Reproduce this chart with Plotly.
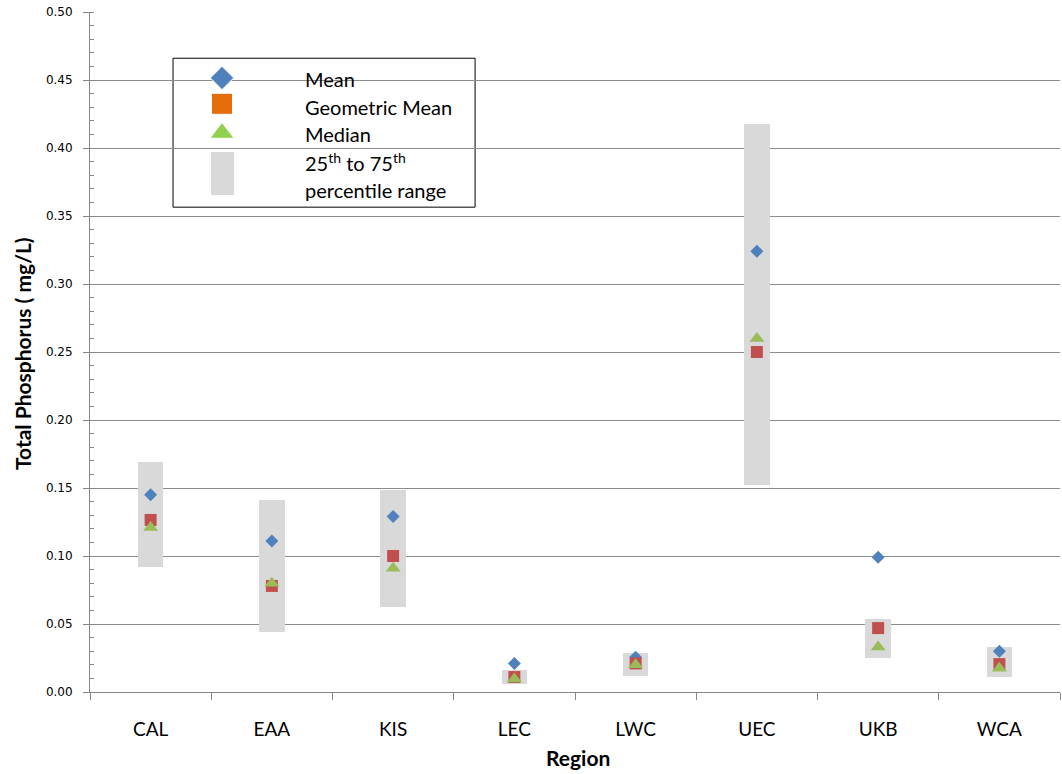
import plotly.graph_objects as go

regions = ["CAL", "EAA", "KIS", "LEC", "LWC", "UEC", "UKB", "WCA"]
mean_vals = [0.145, 0.111, 0.129, 0.021, 0.0255, 0.324, 0.099, 0.030]
geo_mean_vals = [0.1265, 0.078, 0.100, 0.011, 0.021, 0.250, 0.047, 0.0205]
median_vals = [0.121, 0.080, 0.091, 0.0095, 0.020, 0.260, 0.033, 0.0175]
p25_vals = [0.092, 0.044, 0.0625, 0.006, 0.012, 0.152, 0.025, 0.011]
p75_vals = [0.169, 0.141, 0.1485, 0.016, 0.029, 0.418, 0.054, 0.033]
y_ticks = [0.0, 0.05, 0.10, 0.15, 0.20, 0.25, 0.30, 0.35, 0.40, 0.45, 0.50]

legend_labels = ["Mean", "Geometric Mean", "Median",
                 "25<sup>th</sup> to 75<sup>th</sup>", "percentile range"]

fig = go.Figure()

fig.add_trace(go.Bar(
    x=regions, y=[h - l for h, l in zip(p75_vals, p25_vals)], base=p25_vals,
    width=0.21, marker=dict(color="#D9D9D9", line=dict(width=0)),
    showlegend=False, hoverinfo="skip"))
fig.add_trace(go.Scatter(
    x=regions, y=mean_vals, mode="markers",
    marker=dict(symbol="diamond", size=10, color="#4F81BD", opacity=1), showlegend=False))
fig.add_trace(go.Scatter(
    x=regions, y=geo_mean_vals, mode="markers",
    marker=dict(symbol="square", size=12, color="#C0504D", opacity=1), showlegend=False))
fig.add_trace(go.Scatter(
    x=regions, y=median_vals, mode="markers",
    marker=dict(symbol="triangle-up", size=13, color="#9BBB59", opacity=1), showlegend=False))

# custom legend icons on an overlay axis spanning the plot area (paper-like 0..1)
lx = 0.1361
fig.add_trace(go.Scatter(
    x=[lx, lx, lx], y=[0.903, 0.865, 0.822], xaxis="x2", yaxis="y2",
    mode="markers",
    marker=dict(symbol=["diamond", "square", "triangle-up"], size=[18, 21, 21],
                color=["#4F81BD", "#E46C0A", "#92D050"], opacity=1),
    showlegend=False, hoverinfo="skip"))

shapes = [
    dict(type="rect", xref="paper", yref="paper", x0=0.0856, x1=0.397, y0=0.713, y1=0.932,
         fillcolor="white", line=dict(color="black", width=1), layer="between"),
    dict(type="rect", xref="paper", yref="paper", x0=0.1247, x1=0.1485, y0=0.731, y1=0.794,
         fillcolor="#D9D9D9", line=dict(width=0), layer="between"),
]

tx = 0.2196
lfont = dict(family="Lato, Noto Sans, sans-serif", size=20, color="black")
annotations = []
for lab, yy in zip(legend_labels, [0.901, 0.860, 0.821, 0.779, 0.738]):
    annotations.append(dict(text=lab, xref="paper", yref="paper", x=tx, y=yy,
                            xanchor="left", yanchor="middle", showarrow=False, font=lfont))

annotations.append(dict(text="<b>Total Phosphorus ( mg/L)</b>", textangle=-90,
                        xref="paper", yref="paper", x=-0.0701, y=0.497,
                        xanchor="center", yanchor="middle", showarrow=False,
                        font=dict(family="Lato, sans-serif", size=21, color="black")))
annotations.append(dict(text="<b>Region</b>", xref="paper", yref="paper", x=0.503, y=-0.097,
                        xanchor="center", yanchor="middle", showarrow=False,
                        font=dict(family="Lato, sans-serif", size=21, color="black")))

fig.update_layout(
    width=1062, height=774,
    margin=dict(l=90, r=2, t=12, b=82),
    plot_bgcolor="white", paper_bgcolor="white",
    shapes=shapes, annotations=annotations,
    bargap=0,
    xaxis=dict(
        type="category", showgrid=False, showline=True, linecolor="#868686", linewidth=1,
        ticks="outside", tickson="boundaries", ticklen=7, tickcolor="#868686",
        tickfont=dict(family="Lato, sans-serif", size=19, color="black"),
        ticklabelstandoff=20,
        automargin=False, range=[-0.5, 7.5]),
    yaxis=dict(
        range=[0, 0.5], tickvals=y_ticks, tickformat=".2f",
        showgrid=True, gridcolor="#8C8C8C", gridwidth=1,
        showline=True, linecolor="#868686", linewidth=1,
        ticks="outside", ticklen=6, tickcolor="#868686",
        minor=dict(dtick=0.01, ticks="inside", ticklen=4, tickcolor="#868686", showgrid=False),
        tickfont=dict(family="DejaVu Sans, sans-serif", size=12, color="black"),
        ticklabelstandoff=8,
        automargin=False, zeroline=False),
    xaxis2=dict(overlaying="x", range=[0, 1], visible=False),
    yaxis2=dict(overlaying="y", range=[0, 1], visible=False),
)

fig.write_html("out.html", config={"displayModeBar": False},
               post_script="document.body.style.margin='0';")
